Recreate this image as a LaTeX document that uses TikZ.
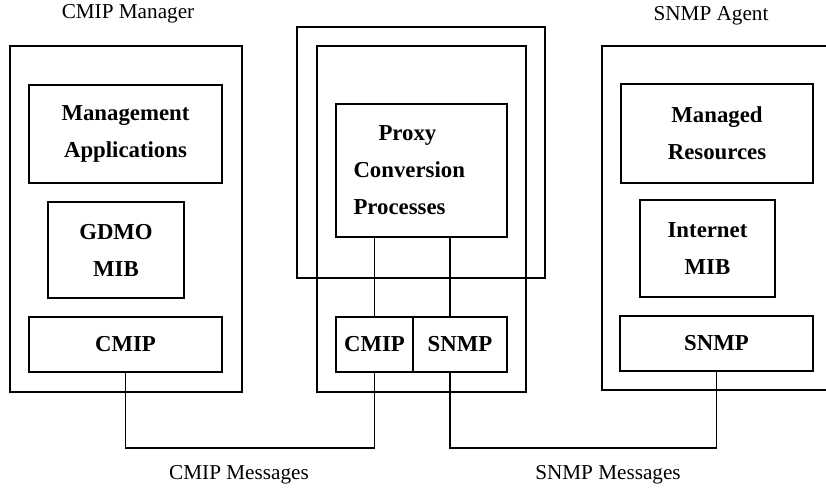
\documentclass[tikz,border=0pt]{standalone}
\usepackage{fontspec}
\setmainfont{Liberation Serif}
\begin{document}
\begin{tikzpicture}[x=0.5pt,y=-0.5pt,
  frame/.style={draw,line width=0.9pt,inner sep=0pt,anchor=center},
  blk/.style={frame,align=center,font=\fontsize{11.4}{18.5}\selectfont\bfseries},
  title/.style={font=\fontsize{10.6}{13}\selectfont,inner sep=0pt},
  wire/.style={line width=0.9pt}]
\useasboundingbox (0,0) rectangle (826,489);
\clip (0,0) rectangle (826,489);

% CMIP manager
\node[frame,minimum width=116pt,minimum height=173pt] (mgr) at (126,219) {};
\node[blk,minimum width=96.5pt,minimum height=49pt] (mgmtapp) at (125.5,134) {Management\\Applications};
\node[blk,minimum width=68pt,minimum height=48pt] (gdmo) at (116,250) {GDMO\\MIB};
\node[blk,minimum width=96.5pt,minimum height=27.5pt] (cmipL) at (125.5,344.5) {CMIP};
\node[title] (mgrtitle) at (128,14) {CMIP Manager};

% Proxy
\node[frame,minimum width=124pt,minimum height=125.5pt] (pxouter) at (421,152.5) {};
\node[frame,minimum width=104.5pt,minimum height=173pt] (pxinner) at (421.5,219) {};
\node[blk,minimum width=85.5pt,minimum height=66.5pt,text width=68pt,align=left] (proxyproc) at (421.5,170.5)
  {\hspace*{12.5pt}Proxy\\Conversion\\Processes};
\node[blk,minimum width=38.5pt,minimum height=27.5pt] (cmipM) at (374.5,344.5) {CMIP};
\node[blk,minimum width=47pt,minimum height=27.5pt] (snmpM) at (460,344.5) {SNMP};

% SNMP agent
\node[frame,minimum width=119pt,minimum height=172pt] (agent) at (721,218) {};
\node[blk,minimum width=96pt,minimum height=49.5pt] (managed) at (717,133.5) {Managed\\Resources};
\node[blk,minimum width=67.5pt,minimum height=48.5pt] (inetmib) at (707.5,248.5) {Internet\\MIB};
\node[blk,minimum width=96.5pt,minimum height=27.5pt] (snmpR) at (716.5,343.5) {SNMP};
\node[title] (agenttitle) at (711,16) {SNMP Agent};

% message paths
\coordinate (bus) at (0,448);
\coordinate (snmpx) at (450,0);
\draw[wire] (cmipL.south) -- (cmipL.south |- bus) -| (cmipM.south);
\draw[wire] (snmpR.south) -- (snmpR.south |- bus) -| (snmpM.south -| snmpx);
\draw[wire] (proxyproc.south -| cmipM.north) -- (cmipM.north);
\draw[wire] (proxyproc.south -| snmpx) -- (snmpM.north -| snmpx);

\node[title] (cmipmsg) at (239,475) {CMIP Messages};
\node[title] (snmpmsg) at (608,475) {SNMP Messages};
\end{tikzpicture}
\end{document}
